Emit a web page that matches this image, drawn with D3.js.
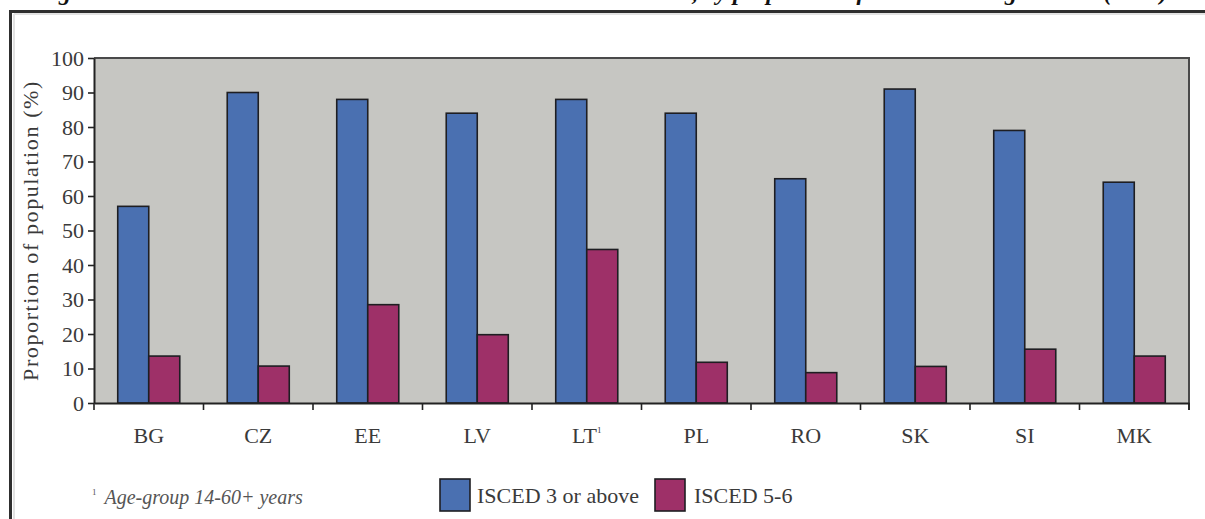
<!DOCTYPE html>
<html>
<head>
<meta charset="utf-8">
<script src="https://cdn.jsdelivr.net/npm/d3@7"></script>
<style>
html,body{margin:0;padding:0;background:#fff;}
svg{display:block;}
</style>
</head>
<body>
<svg id="chart" width="1205" height="519"></svg>
<script>
const categories = ["BG","CZ","EE","LV","LT","PL","RO","SK","SI","MK"];
const seriesNames = ["ISCED 3 or above","ISCED 5-6"];
const isced3Values = [57, 90, 88, 84, 88, 84, 65, 91, 79, 64];
const isced56Values = [13.6, 10.7, 28.5, 19.8, 44.5, 11.8, 8.8, 10.6, 15.6, 13.6];
const yTicks = [0,10,20,30,40,50,60,70,80,90,100];
const titleText = "Figure 3: Educational attainment levels in the accession countries, by proportion of the relevant age cohort (2001)";
const yTitle = "Proportion of population (%)";
const footnote = "Age-group 14-60+ years";
const colors = ["#4a70b1", "#9e3068"];

(function () {
const svg = d3.select("#chart");
const serif = "'Liberation Serif', 'Times New Roman', serif";

svg.append("text")
  .attr("x", 602).attr("y", -0.5)
  .attr("text-anchor", "middle")
  .attr("font-family", serif).attr("font-size", 24)
  .attr("font-weight", "bold").attr("font-style", "italic")
  .attr("fill", "#111")
  .text(titleText);

svg.append("rect")
  .attr("x", 10.5).attr("y", 11.5)
  .attr("width", 1400).attr("height", 700)
  .attr("fill", "none").attr("stroke", "#2e2e2e").attr("stroke-width", 3);
svg.append("line")
  .attr("x1", 14).attr("x2", 14).attr("y1", 14).attr("y2", 519)
  .attr("stroke", "#e2e2e2").attr("stroke-width", 2);
svg.append("line")
  .attr("x1", 14).attr("x2", 1205).attr("y1", 14).attr("y2", 14)
  .attr("stroke", "#e2e2e2").attr("stroke-width", 2);

const pl = 94, pr = 1189, pt = 58, pb = 403;

const x0 = d3.scaleBand().domain(categories).range([pl, pr]).paddingInner(0).paddingOuter(0);
const x1 = d3.scaleBand().domain(seriesNames).range([0, x0.bandwidth()]).paddingInner(0).paddingOuter(0.765);
const y = d3.scaleLinear().domain([0, 100]).range([pb, pt]);

svg.append("rect")
  .attr("x", pl).attr("y", pt)
  .attr("width", pr - pl).attr("height", pb - pt)
  .attr("fill", "#c6c6c2");

svg.append("path")
  .attr("d", `M${pl},${pt}H${pr}V${pb + 7}`)
  .attr("fill", "none").attr("stroke", "#4a4a4a").attr("stroke-width", 2);

const data = categories.map((c, i) => ({cat: c, vals: [isced3Values[i], isced56Values[i]]}));

const groups = svg.append("g").selectAll("g").data(data).join("g")
  .attr("transform", d => `translate(${x0(d.cat)},0)`);

groups.selectAll("rect").data(d => d.vals.map((v, j) => ({name: seriesNames[j], v, j})))
  .join("rect")
  .attr("x", d => x1(d.name))
  .attr("y", d => y(d.v))
  .attr("width", x1.bandwidth())
  .attr("height", d => y(0) - y(d.v))
  .attr("fill", d => colors[d.j])
  .attr("stroke", "#1e1e22").attr("stroke-width", 1.6);

const yAxis = d3.axisLeft(y).tickValues(yTicks).tickSize(6).tickPadding(4).tickSizeOuter(0);
const gy = svg.append("g").attr("transform", `translate(${pl},0)`).call(yAxis);
gy.select(".domain").attr("stroke", "#222").attr("stroke-width", 2);
gy.selectAll(".tick line").attr("stroke", "#222").attr("stroke-width", 1.6);
gy.selectAll(".tick text")
  .attr("font-family", serif).attr("font-size", 22).attr("fill", "#3a3a3a");

const xAxis = d3.axisBottom(x0).tickSize(0).tickPadding(24).tickSizeOuter(0);
const gx = svg.append("g").attr("transform", `translate(0,${pb})`).call(xAxis);
gx.select(".domain").attr("stroke", "#222").attr("stroke-width", 2);
gx.selectAll(".tick text")
  .attr("font-family", serif).attr("font-size", 22).attr("fill", "#3a3a3a")
  .each(function(d) {
    if (d === "LT") {
      const t = d3.select(this);
      t.text("LT");
      t.append("tspan").attr("font-size", 9).attr("dy", -10).text("1");
    }
  });

const bounds = categories.map(c => x0(c)).concat([x0(categories[categories.length - 1]) + x0.bandwidth()]);
svg.append("g").selectAll("line").data(bounds).join("line")
  .attr("x1", d => d).attr("x2", d => d)
  .attr("y1", pb).attr("y2", pb + 7)
  .attr("stroke", "#222").attr("stroke-width", 1.6);

svg.append("text")
  .attr("transform", `translate(38,${(pt + pb) / 2}) rotate(-90)`)
  .attr("text-anchor", "middle")
  .attr("font-family", serif).attr("font-size", 22)
  .attr("letter-spacing", 1.6)
  .attr("fill", "#3a3a3a")
  .text(yTitle);

const legendItems = [
  {name: seriesNames[0], color: colors[0], sx: 440, tx: 477},
  {name: seriesNames[1], color: colors[1], sx: 655, tx: 694}
];
const lg = svg.append("g");
legendItems.forEach(it => {
  lg.append("rect")
    .attr("x", it.sx).attr("y", 479)
    .attr("width", 30).attr("height", 32)
    .attr("fill", it.color).attr("stroke", "#1e1e22").attr("stroke-width", 1.6);
  lg.append("text")
    .attr("x", it.tx).attr("y", 503)
    .attr("font-family", serif).attr("font-size", 22).attr("fill", "#3a3a3a")
    .text(it.name);
});

const fn = svg.append("text")
  .attr("x", 92).attr("y", 504)
  .attr("font-family", serif).attr("font-size", 20)
  .attr("font-style", "italic").attr("fill", "#555");
fn.append("tspan").attr("font-size", 9).attr("font-style", "normal").attr("dy", -9).text("1");
fn.append("tspan").attr("dx", 8).attr("dy", 9).text(footnote);
})();
</script>
</body>
</html>
